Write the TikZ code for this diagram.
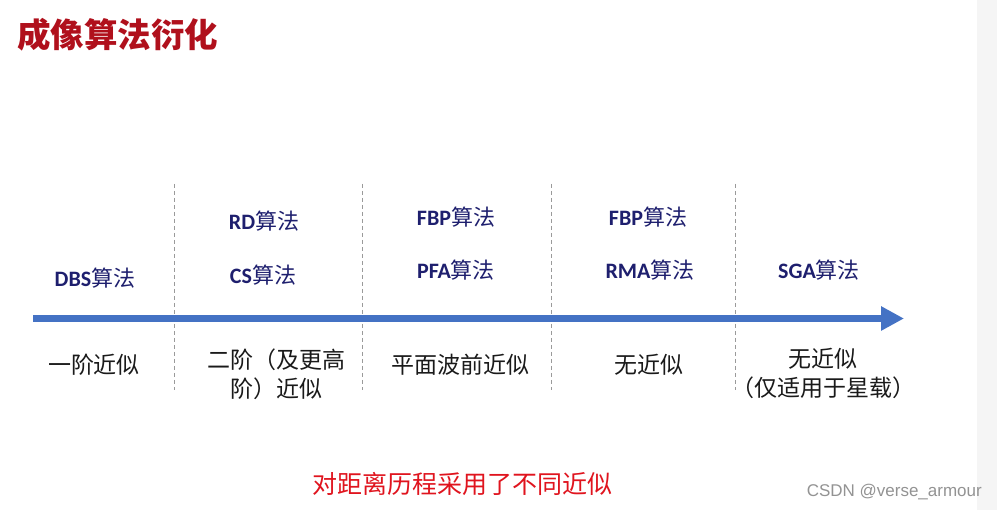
\documentclass[tikz,border=0pt]{standalone}
\usepackage{fontspec}
\usetikzlibrary{arrows.meta}
\newfontfamily\cjk{Noto Sans CJK SC}
\newfontfamily\carl{Carlito}
\newfontfamily\wmfont{Liberation Sans}
\definecolor{titlered}{HTML}{B0101C}
\definecolor{notered}{HTML}{E0141E}
\definecolor{algnavy}{HTML}{1E1F6E}
\definecolor{axisblue}{HTML}{4472C4}
\definecolor{dashgray}{HTML}{9A9A9A}
\definecolor{stripgray}{HTML}{F5F5F5}
\definecolor{txtblack}{HTML}{1A1A1A}
\newcommand{\alg}[1]{{\carl\bfseries #1}{\cjk 算法}}
\tikzset{
  algname/.style={text=algnavy, font=\fontsize{22}{26}\selectfont, inner sep=0pt},
  approx/.style={text=txtblack, font=\cjk\fontsize{23}{29}\selectfont, align=center, inner sep=0pt},
  sepline/.style={draw=dashgray, line width=0.9pt, dash pattern=on 4pt off 3pt},
  axisline/.style={draw=axisblue, line width=6.5pt, -{Triangle[length=23pt,width=23pt]}},
}
\begin{document}
\begin{tikzpicture}[x=1pt,y=-1pt]
\useasboundingbox (0,0) rectangle (997,510);
\fill[white] (0,0) rectangle (997,510);
\fill[stripgray] (977,0) rectangle (997,510);
% title
\node[text=titlered, font=\cjk\bfseries\fontsize{33.5}{37}\selectfont, anchor=west, inner sep=0pt] (title) at (17,35) {成像算法衍化};
% separators
\foreach \i/\x in {1/174,2/362,3/551,4/735}{
  \coordinate (s\i t) at (\x,184);
  \coordinate (s\i b) at (\x,390);
  \draw[sepline] (s\i t) -- (s\i b);
}
% axis
\coordinate (axstart) at (33,318.5);
\coordinate (axend) at (904,318.5);
\draw[axisline] (axstart) -- (axend);
% algorithms
\node[algname] (dbs) at (95,278) {\alg{DBS}};
\node[algname] (rd) at (264,221) {\alg{RD}};
\node[algname] (cs) at (263,275) {\alg{CS}};
\node[algname] (fbp1) at (456,217) {\alg{FBP}};
\node[algname] (pfa) at (456,270) {\alg{PFA}};
\node[algname] (fbp2) at (648,217) {\alg{FBP}};
\node[algname] (rma) at (650,270) {\alg{RMA}};
\node[algname] (sga) at (819,270) {\alg{SGA}};
% approximations
\node[approx] (a1) at (94,365) {一阶近似};
\node[approx] (a2) at (276,374) {二阶（及更高\\阶）近似};
\node[approx] (a3) at (460,365) {平面波前近似};
\node[approx] (a4) at (649,365) {无近似};
\node[approx] (a5) at (823,373) {无近似\\（仅适用于星载）};
% note
\node[text=notered, font=\cjk\fontsize{25}{28}\selectfont, inner sep=0pt] (note) at (462,484) {对距离历程采用了不同近似};
% watermark
\node[text=gray!85, font=\wmfont\fontsize{17}{20}\selectfont, anchor=east, inner sep=0pt] (wm) at (982,492) {CSDN @verse\_armour};
\end{tikzpicture}
\end{document}
